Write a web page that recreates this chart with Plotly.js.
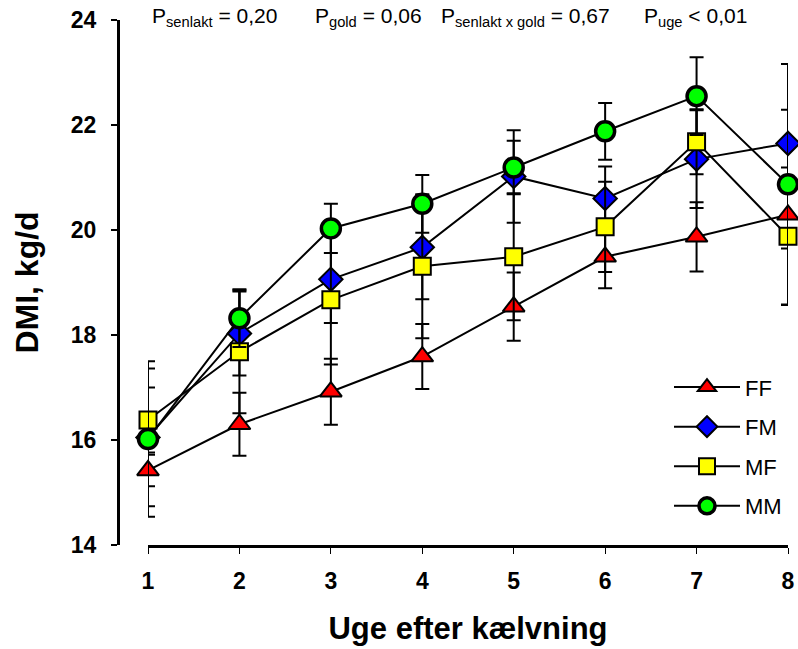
<!DOCTYPE html>
<html>
<head>
<meta charset="utf-8">
<script src="https://cdn.plot.ly/plotly-3.0.1.min.js"></script>
<style>html,body{margin:0;padding:0;background:#fff;}#chart{width:798px;height:649px;}</style>
</head>
<body>
<div id="chart"></div>
<script>
// Weeks after calving
const weeks = [1, 2, 3, 4, 5, 6, 7, 8];
const weekLabels = ['1', '2', '3', '4', '5', '6', '7', '8'];

// Dry-matter intake (kg/d) per group
const FF = [15.42, 16.30, 16.92, 17.59, 18.54, 19.49, 19.87, 20.29];
const FF_err = [0.30, 0.60, 0.63, 0.62, 0.65, 0.60, 0.66, 0.64];

const FM = [16.05, 18.03, 19.06, 19.67, 21.02, 20.60, 21.35, 21.65];
const FM_err = [1.31, 0.80, 0.83, 0.99, 0.88, 0.61, 0.93, 0.64];

const MF = [16.38, 17.68, 18.67, 19.31, 19.49, 20.06, 21.68, 19.88];
const MF_err = [0.62, 1.17, 1.23, 1.37, 1.21, 0.86, 0.62, 1.31];

const MM = [16.02, 18.32, 20.03, 20.50, 21.19, 21.88, 22.55, 20.87];
const MM_err = [1.48, 0.55, 0.47, 0.55, 0.51, 0.54, 0.74, 2.29];

const yTicks = [14, 16, 18, 20, 22, 24];
const yTickLabels = ['14', '16', '18', '20', '22', '24'];

// P-value statements shown above the plot
const pLabels = [
  'P<sub>senlakt</sub> = 0,20',
  'P<sub>gold</sub> = 0,06',
  'P<sub>senlakt x gold</sub> = 0,67',
  'P<sub>uge</sub> < 0,01'
];

const FONT = '"Liberation Sans", Arial, Helvetica, sans-serif';

function series(name, y, err, symbol, color, size, lw) {
  return {
    type: 'scatter', mode: 'lines+markers', name: name, legendgroup: name,
    x: weeks, y: y, cliponaxis: false,
    line: {color: '#000', width: 2},
    marker: {symbol: symbol, color: color, size: size, line: {color: '#000', width: lw}},
    error_y: {type: 'data', array: err, visible: true, color: '#000', thickness: 2, width: 7}
  };
}

const data = [
  series('FF', FF, FF_err, 'triangle-up', '#ff0000', 19, 2),
  series('FM', FM, FM_err, 'diamond', '#0000ff', 18, 2),
  series('MF', MF, MF_err, 'square', '#ffff00', 17, 2),
  series('MM', MM, MM_err, 'circle', '#00ff00', 19, 3.5)
];

const PLOT_W = 672;
const PLOT_H = 525;
const pLeftPx = [32, 195, 321, 524];   // left edges relative to plot area

const layout = {
  width: 798, height: 649,
  margin: {l: 118, r: 8, t: 20, b: 104, pad: 0},
  paper_bgcolor: '#fff', plot_bgcolor: '#fff',
  font: {family: FONT, color: '#000'},
  showlegend: true,
  legend: {
    x: (669 - 118) / PLOT_W, y: 0.35 - 5 / PLOT_H, xanchor: 'left', yanchor: 'top',
    font: {family: FONT, size: 22, color: '#000'},
    bgcolor: 'rgba(0,0,0,0)', tracegroupgap: 8, itemwidth: 66
  },
  xaxis: {
    domain: [30 / PLOT_W, 670 / PLOT_W],
    range: [1, 8], tickvals: weeks, ticktext: weekLabels,
    showgrid: false, zeroline: false,
    showline: true, linecolor: '#000', linewidth: 3,
    ticks: 'outside', ticklen: 6, tickwidth: 1, tickcolor: '#000',
    tickfont: {family: FONT, size: 23, color: '#000', weight: 700},
    ticklabelstandoff: 7,
    title: {text: '<b>Uge efter kælvning</b>', font: {family: FONT, size: 31, color: '#000'}, standoff: 25}
  },
  yaxis: {
    anchor: 'free', position: 0,
    range: [14, 24], tickvals: yTicks, ticktext: yTickLabels,
    showgrid: false, zeroline: false,
    showline: true, linecolor: '#000', linewidth: 3,
    ticks: 'outside', ticklen: 6, tickwidth: 2, tickcolor: '#000',
    tickfont: {family: FONT, size: 23, color: '#000', weight: 700},
    ticklabelstandoff: 10,
    title: {text: '<b>DMI, kg/d</b>', font: {family: FONT, size: 32, color: '#000'}, standoff: 21}
  },
  annotations: pLabels.map((t, i) => ({
    xref: 'paper', yref: 'paper', x: pLeftPx[i] / PLOT_W, y: 1.006, xanchor: 'left', yanchor: 'middle',
    text: t, showarrow: false, font: {family: FONT, size: 21, color: '#000'}
  }))
};

Plotly.newPlot('chart', data, layout, {displayModeBar: false, staticPlot: true});
</script>
</body>
</html>
